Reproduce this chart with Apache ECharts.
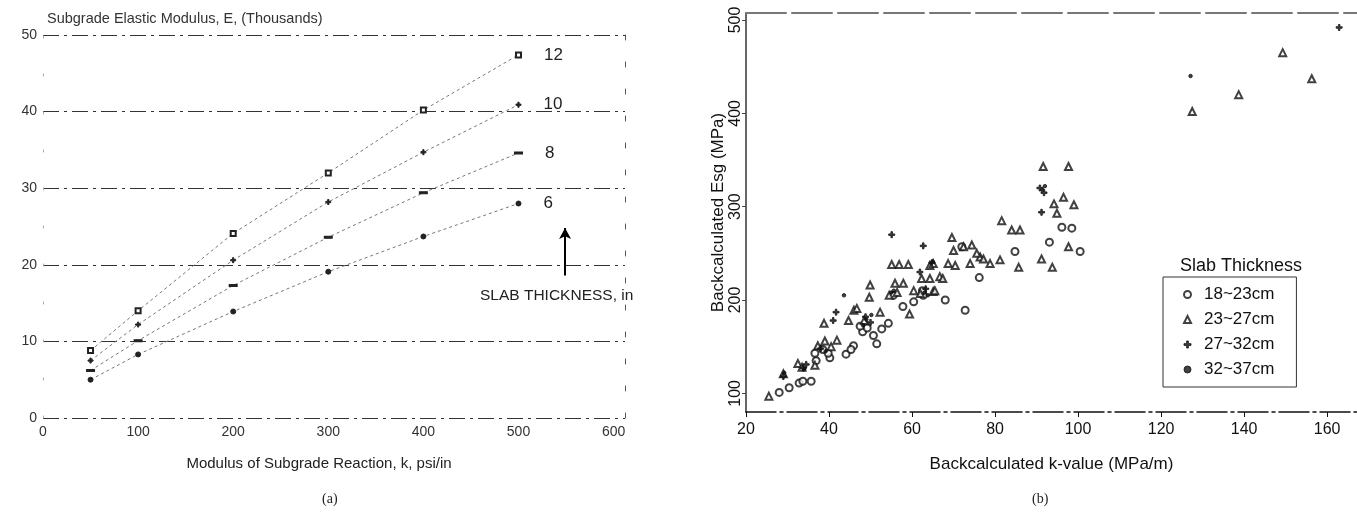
<!DOCTYPE html>
<html><head><meta charset="utf-8">
<script src="https://cdn.jsdelivr.net/npm/echarts@6/dist/echarts.min.js"></script>
<style>html,body{margin:0;padding:0;background:#fff}#c{width:1357px;height:513px}</style>
</head><body><div id="c"></div>
<script>
// ---------- Panel (a) data ----------
const kPsi = [50, 100, 200, 300, 400, 500];
const thicknessNames = ['12', '10', '8', '6'];
const E12 = [8.8, 14.0, 24.1, 32.0, 40.2, 47.4];
const E10 = [7.5, 12.2, 20.6, 28.2, 34.7, 40.9];
const E8  = [6.2, 10.1, 17.3, 23.6, 29.4, 34.6];
const E6  = [5.0, 8.3, 13.9, 19.1, 23.7, 28.0];
const leftXTicks = [0, 100, 200, 300, 400, 500, 600];
const leftYTicks = [0, 10, 20, 30, 40, 50];
const arrowAnno = { k: 549, from: 18.6, to: 24.8 };

// ---------- Panel (b) data ----------
const rightXTicks = [20, 40, 60, 80, 100, 120, 140, 160];
const rightYTicks = [100, 200, 300, 400, 500];
const slabGroups = ['18~23cm', '23~27cm', '27~32cm', '32~37cm'];
const g18_23 = [[28.0,101],[30.4,106],[32.8,111],[33.7,113],[35.7,113],[36.9,135],[40.2,138],[39.8,143],[36.6,143],[38.5,147],
  [44.1,142],[45.9,151],[45.3,147],[48.1,166],[50.7,162],[51.5,153],[52.7,169],[54.3,175],[49.2,170],[47.5,172],
  [57.8,193],[60.4,198],[62.7,205],[68.0,200],[72.8,189],[76.2,224],[84.8,252],[93.1,262],[96.1,278],[98.5,277],
  [100.5,252],[72.0,257],[62.5,210],[55.5,205]];
const g23_27 = [[25.5,97],[29.0,121],[32.5,132],[36.6,130],[39.0,156],[41.9,157],[37.3,151],[38.8,175],[44.7,178],[46.0,189],
  [46.7,191],[49.9,216],[49.7,203],[52.3,187],[54.5,205],[56.4,208],[55.1,238],[56.9,238],[59.1,238],[55.9,218],
  [57.9,218],[59.4,185],[60.4,210],[62.0,207],[65.1,209],[65.5,210],[62.3,223],[64.3,223],[66.7,225],[67.4,223],
  [64.3,237],[65.1,239],[68.7,239],[70.4,237],[74.0,239],[76.4,246],[77.2,244],[78.8,239],[81.2,243],[85.7,235],
  [69.6,267],[70.0,253],[72.4,257],[74.4,259],[75.6,250],[81.6,285],[84.0,275],[86.0,275],[91.2,244],[93.8,235],
  [91.6,343],[97.7,343],[94.2,303],[96.5,310],[99.0,302],[94.9,293],[97.7,257],[127.5,402],[138.7,420],[149.3,465],
  [156.3,437],[48.5,178],[33.5,128],[40.5,150]];
const g27_32 = [[29.0,118],[33.8,127],[34.5,131],[41.0,178],[41.7,187],[48.8,182],[50.0,176],[55.1,270],[62.7,258],[61.9,230],
  [64.8,240],[91.2,294],[90.8,320],[91.8,315],[162.9,492],[38.0,148],[63.3,212]];
const g32_37 = [[29.2,122],[34.0,126],[43.6,205],[49.0,179],[48.2,173],[50.2,184],[55.0,208],[55.6,210],[63.0,208],[63.8,205],
  [91.4,318],[92.0,322],[127.1,440],[39.2,145],[65.0,241]];

const FONT = 'Liberation Sans';
const chart = echarts.init(document.getElementById('c'), null, { renderer: 'canvas' });

const lineSets = [E12, E10, E8, E6];
const lineSymbols = ['emptyRect', 'path://M3,0H5V3H8V5H5V8H3V5H0V3H3Z', 'rect', 'circle'];
const leftSeries = lineSets.map((vals, si) => ({
  name: thicknessNames[si], type: 'line', xAxisIndex: 0, yAxisIndex: 0,
  symbol: lineSymbols[si], symbolSize: si === 2 ? [6, 2] : 5,
  itemStyle: { color: '#222', borderColor: '#222', borderWidth: 1 },
  lineStyle: { color: '#777', width: 1, type: [3, 3] },
  data: kPsi.map((k, i) => i === kPsi.length - 1
    ? { value: [k, vals[i]], label: { show: true, formatter: thicknessNames[si], position: 'right', distance: 22,
        fontFamily: FONT, fontSize: 17, color: '#222' } }
    : [k, vals[i]]),
  markLine: si === 3 ? {
    silent: true, symbol: ['none', 'arrow'], symbolSize: [9, 11],
    lineStyle: { color: '#000', width: 2, type: 'solid' }, label: { show: false },
    data: [[{ coord: [arrowAnno.k, arrowAnno.from] }, { coord: [arrowAnno.k, arrowAnno.to] }]]
  } : undefined,
  z: 3
}));

const scatterDefs = [
  { data: g18_23, symbol: 'emptyCircle', size: 7 },
  { data: g23_27, symbol: 'emptyTriangle', size: 7 },
  { data: g27_32, symbol: 'path://M3,0H5V3H8V5H5V8H3V5H0V3H3Z', size: 6 },
  { data: g32_37, symbol: 'circle', size: 3.5 }
];
const rightSeries = scatterDefs.map((d, i) => ({
  name: slabGroups[i], type: 'scatter', xAxisIndex: 1, yAxisIndex: 2,
  symbol: d.symbol, symbolSize: d.size, symbolKeepAspect: true,
  itemStyle: { color: '#111', borderColor: '#111', borderWidth: 1 },
  data: d.data
}));

const option = {
  animation: false,
  backgroundColor: '#fff',
  textStyle: { fontFamily: FONT },
  title: [
    { text: 'Subgrade Elastic Modulus, E, (Thousands)', left: 42, top: 6,
      textStyle: { fontFamily: FONT, fontSize: 14.5, fontWeight: 'normal', color: '#333' } },
    { text: 'Slab Thickness', left: 1175, top: 252,
      textStyle: { fontFamily: FONT, fontSize: 18, fontWeight: 'normal', color: '#111' } }
  ],
  graphic: [
    { type: 'text', left: 480, top: 288, style: { text: 'SLAB THICKNESS, in', font: '15.5px "Liberation Sans"', fill: '#222' } },
    { type: 'text', left: 322, top: 492, style: { text: '(a)', font: '14px "Liberation Serif"', fill: '#222' } },
    { type: 'text', left: 1032, top: 492, style: { text: '(b)', font: '14px "Liberation Serif"', fill: '#222' } }
  ],
  legend: {
    data: slabGroups.map((n, i) => ({ name: n, icon: ['emptyCircle', 'emptyTriangle', 'path://M3,0H5V3H8V5H5V8H3V5H0V3H3Z', 'circle'][i] })),
    orient: 'vertical', left: 1163, top: 277,
    itemWidth: 7, itemHeight: 7, itemGap: 8, symbolKeepAspect: true,
    padding: [9, 22, 9, 20],
    borderColor: '#333', borderWidth: 1,
    itemStyle: { borderWidth: 1 },
    textStyle: { fontFamily: FONT, fontSize: 17, color: '#111', padding: [0, 0, 0, 8] }
  },
  grid: [
    { left: 43, top: 35, width: 582, height: 383 },
    { left: 746, top: 13, width: 611, height: 399 }
  ],
  xAxis: [
    { gridIndex: 0, type: 'value', min: 0, max: 612, interval: 100,
      axisLine: { show: false }, axisTick: { show: false }, splitLine: { show: false },
      axisLabel: { showMaxLabel: false, margin: 7, fontFamily: FONT, fontSize: 14, color: '#333' },
      name: 'Modulus of Subgrade Reaction, k, psi/in', nameLocation: 'middle', nameGap: 38,
      nameTextStyle: { fontFamily: FONT, fontSize: 15, color: '#222', padding: [0, 30, 0, 0] } },
    { gridIndex: 1, type: 'value', min: 20, max: 167.2, position: 'bottom',
      axisLine: { show: true, lineStyle: { color: '#111', width: 1.5, type: [30, 4, 3, 4] } },
      axisTick: { show: true, length: 5, inside: false, customValues: rightXTicks, lineStyle: { color: '#111' } },
      splitLine: { show: false },
      axisLabel: { customValues: rightXTicks, margin: 10, fontFamily: FONT, fontSize: 16, color: '#111' },
      name: 'Backcalculated k-value (MPa/m)', nameLocation: 'middle', nameGap: 44,
      nameTextStyle: { fontFamily: FONT, fontSize: 17, color: '#111' } },
    { gridIndex: 1, type: 'value', min: 20, max: 167.2, position: 'top',
      axisLine: { show: true, lineStyle: { color: '#777', width: 2, type: [40, 6] } },
      axisTick: { show: false }, axisLabel: { show: false }, splitLine: { show: false } }
  ],
  yAxis: [
    { gridIndex: 0, type: 'value', min: 0, max: 50, interval: 10,
      axisLine: { show: true, lineStyle: { color: '#aaa', width: 1, type: [2, 36] } },
      axisTick: { show: false },
      splitLine: { show: true, lineStyle: { color: '#333', width: 1, type: [16, 5, 3, 5] } },
      axisLabel: { margin: 6, fontFamily: FONT, fontSize: 14, color: '#333' } },
    { gridIndex: 0, type: 'value', min: 0, max: 50, position: 'right',
      axisLine: { show: true, lineStyle: { color: '#555', width: 1, type: [5, 22] } },
      axisTick: { show: false }, axisLabel: { show: false }, splitLine: { show: false } },
    { gridIndex: 1, type: 'value', min: 80, max: 507.5,
      axisLine: { show: true, lineStyle: { color: '#666', width: 2 } },
      axisTick: { show: true, length: 4, customValues: rightYTicks, lineStyle: { color: '#444' } },
      splitLine: { show: false },
      axisLabel: { customValues: rightYTicks, rotate: 90, margin: 2, fontFamily: FONT, fontSize: 16, color: '#111' },
      name: 'Backcalculated Esg (MPa)', nameLocation: 'middle', nameRotate: 90, nameGap: 16,
      nameTextStyle: { fontFamily: FONT, fontSize: 17, color: '#111' } }
  ],
  series: leftSeries.concat(rightSeries)
};
chart.setOption(option);
</script></body></html>
